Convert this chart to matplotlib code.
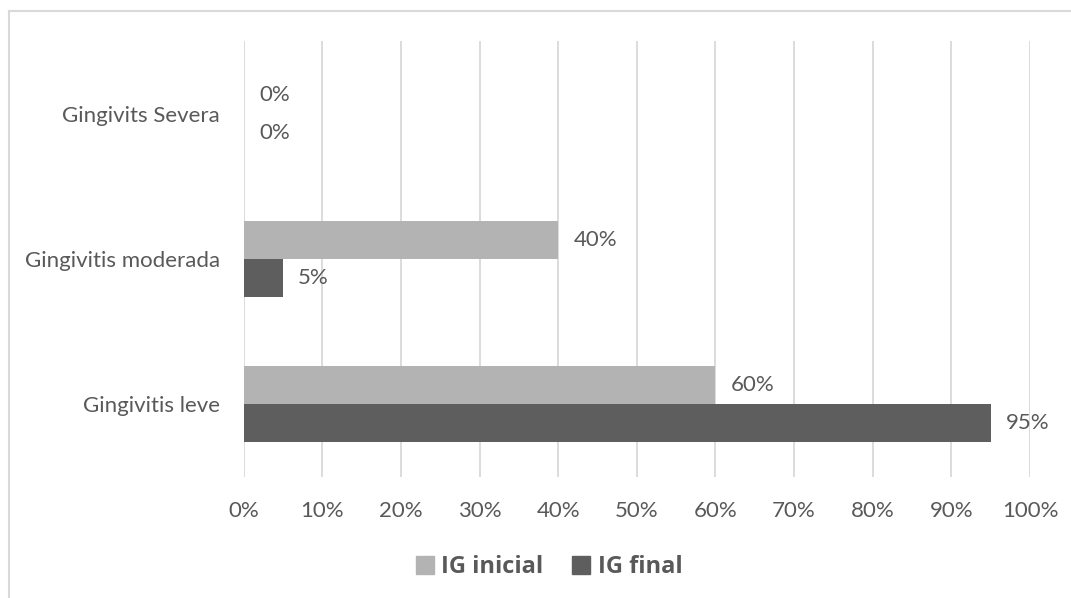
import matplotlib
matplotlib.use("Agg")
import matplotlib.pyplot as plt
from matplotlib.lines import Line2D
import numpy as np

categories = ["Gingivitis leve", "Gingivitis moderada", "Gingivits Severa"]
series_names = ["IG inicial", "IG final"]
ig_inicial = [60, 40, 0]
ig_final = [95, 5, 0]
x_ticks = [0, 10, 20, 30, 40, 50, 60, 70, 80, 90, 100]

color_inicial = "#B3B3B3"
color_final = "#5E5E5E"
text_color = "#595959"
grid_color = "#D9D9D9"

plt.rcParams["font.family"] = ["Lato", "DejaVu Sans"]

W, H = 1071, 598
fig = plt.figure(figsize=(W / 100, H / 100), dpi=100)
ax = fig.add_axes([243.7 / W, 1 - 477 / H, (1030 - 243.7) / W, (477 - 41) / H])

y = np.arange(len(categories))
bh = 0.262
ax.barh(y + bh / 2, ig_inicial, height=bh, color=color_inicial, zorder=3)
ax.barh(y - bh / 2, ig_final, height=bh, color=color_final, zorder=3)

fs = 16
for yi, v in zip(y + bh / 2, ig_inicial):
    ax.annotate(f"{v}%", (v, yi), xytext=(11, 0), textcoords="offset points",
                va="center", ha="left", fontsize=fs, color=text_color)
for yi, v in zip(y - bh / 2, ig_final):
    ax.annotate(f"{v}%", (v, yi), xytext=(11, 0), textcoords="offset points",
                va="center", ha="left", fontsize=fs, color=text_color)

ax.set_xlim(0, 100)
ax.set_ylim(-0.5, 2.5)
ax.set_xticks(x_ticks)
ax.set_xticklabels([f"{t}%" for t in x_ticks])
ax.set_yticks(y)
ax.set_yticklabels(categories)
ax.tick_params(axis="x", length=0, pad=17, labelsize=fs, labelcolor=text_color)
ax.tick_params(axis="y", length=0, pad=17, labelsize=fs, labelcolor=text_color)
ax.xaxis.grid(True, color=grid_color, linewidth=1.3, zorder=0)
ax.yaxis.grid(False)
for s in ax.spines.values():
    s.set_visible(False)

handles = [Line2D([], [], marker="s", linestyle="none", markersize=12.5,
                  markerfacecolor=c, markeredgecolor=c)
           for c in (color_inicial, color_final)]
leg = fig.legend(handles, series_names, loc="center", bbox_to_anchor=(549 / W, 1 - 567 / H),
                 ncol=2, frameon=False, handlelength=0.8, handletextpad=0.3,
                 columnspacing=1.2,
                 prop={"family": "Open Sans", "weight": "bold", "size": 17})
for t in leg.get_texts():
    t.set_color(text_color)

# thin frame around the chart area
fig.add_artist(Line2D([9 / W, 9 / W], [0, 1 - 11 / H], transform=fig.transFigure,
                      color=grid_color, linewidth=1.5))
fig.add_artist(Line2D([9 / W, 1], [1 - 11 / H, 1 - 11 / H], transform=fig.transFigure,
                      color=grid_color, linewidth=1.5))

fig.savefig("out.png", dpi=100, facecolor="white")
